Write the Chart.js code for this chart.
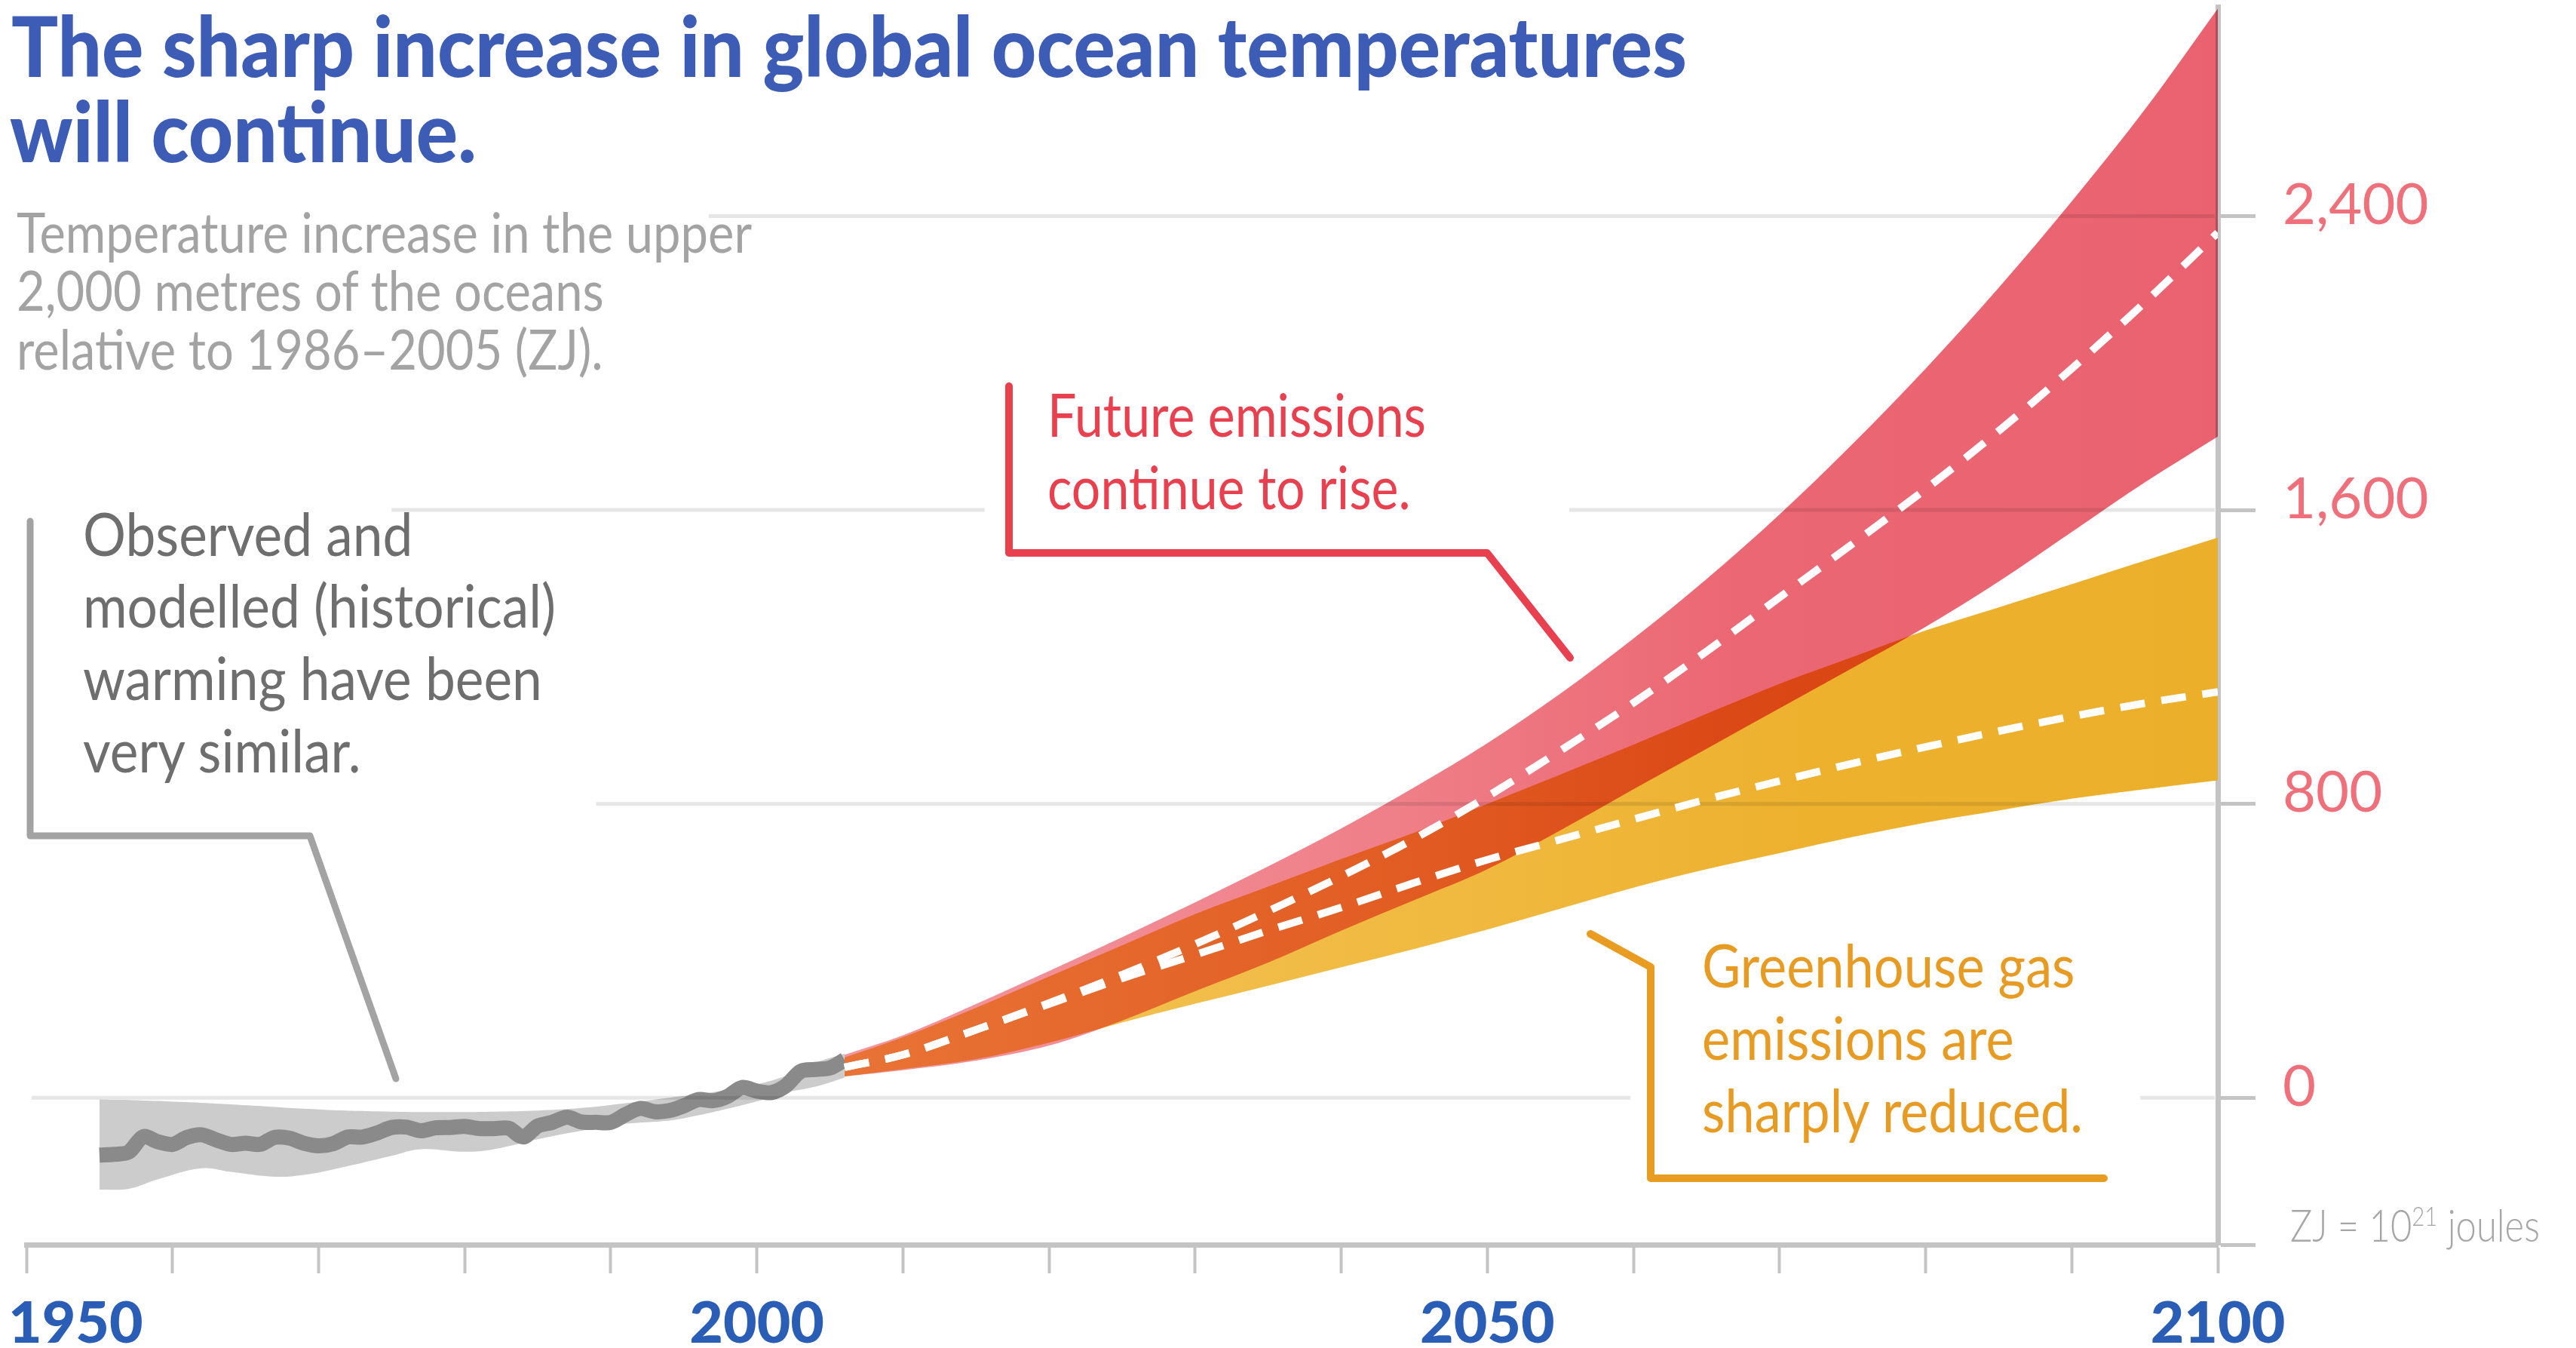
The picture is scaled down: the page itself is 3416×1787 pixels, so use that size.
<!DOCTYPE html>
<html>
<head>
<meta charset="utf-8">
<script src="https://cdn.jsdelivr.net/npm/chart.js@4.4.1/dist/chart.umd.min.js"></script>
<style>
  html, body { margin: 0; padding: 0; background: #ffffff; }
  #wrap { position: relative; width: 3416px; height: 1787px; overflow: hidden; background: #ffffff; }
  #c { position: absolute; left: 0; top: 0; }
  #txt { position: absolute; left: 0; top: 0; pointer-events: none; }
</style>
</head>
<body>
<div id="wrap">
  <canvas id="c" width="3416" height="1787"></canvas>
  <svg id="txt" width="3416" height="1787" xmlns="http://www.w3.org/2000/svg">
    <g class="fit" data-x="15" data-w="2222" fill="#3c5cb6" font-family="Lato, 'Open Sans', sans-serif" font-weight="900" font-size="110">
      <text x="15" y="102" data-ref="1">The sharp increase in global ocean temperatures</text>
      <text x="13" y="215">will continue.</text>
    </g>
    <g class="fit" data-x="22" data-w="975" fill="#a3a3a3" font-family="Lato, 'Open Sans', sans-serif" font-weight="400" font-size="74">
      <text x="22" y="335" data-ref="1">Temperature increase in the upper</text>
      <text x="22" y="412">2,000 metres of the oceans</text>
      <text x="22" y="490">relative to 1986–2005 (ZJ).</text>
    </g>
    <g class="fit" data-x="110" data-w="627" fill="#6e6e6e" font-family="Lato, 'Open Sans', sans-serif" font-weight="400" font-size="79">
      <text x="110" y="737">Observed and</text>
      <text x="110" y="832" data-ref="1">modelled (historical)</text>
      <text x="110" y="928">warming have been</text>
      <text x="110" y="1024">very similar.</text>
    </g>
    <g class="fit" data-x="1389" data-w="502" fill="#e8404f" font-family="Lato, 'Open Sans', sans-serif" font-weight="400" font-size="80">
      <text x="1389" y="579" data-ref="1">Future emissions</text>
      <text x="1389" y="675">continue to rise.</text>
    </g>
    <g class="fit" data-x="2257" data-w="505" fill="#e89b22" font-family="Lato, 'Open Sans', sans-serif" font-weight="400" font-size="80">
      <text x="2257" y="1309">Greenhouse gas</text>
      <text x="2257" y="1405">emissions are</text>
      <text x="2257" y="1501" data-ref="1">sharply reduced.</text>
    </g>
    <g class="fit" data-x="3037" data-w="331" fill="#a6a6a6" font-family="Lato, 'Open Sans', sans-serif" font-weight="300" font-size="60">
      <text x="3037" y="1646" data-ref="1">ZJ = 10<tspan dy="-21" font-size="36">21</tspan><tspan dy="21"> joules</tspan></text>
    </g>
  </svg>
</div>
<script>
// ---------------- DATA ----------------
// Observed ocean heat content (centre of observed band), ZJ
const obsYears = [1955,1956,1957,1958,1959,1960,1961,1962,1963,1964,1965,1966,1967,1968,1969,1970,1971,1972,1973,1974,1975,1976,1977,1978,1979,1980,1981,1982,1983,1984,1985,1986,1987,1988,1989,1990,1991,1992,1993,1994,1995,1996,1997,1998,1999,2000,2001,2002,2003,2004,2005,2006];
const obsValues = [-156,-154,-148,-106,-120,-127,-108,-101,-115,-127,-124,-127,-108,-110,-124,-131,-125,-107,-107,-96,-81,-80,-90,-82,-81,-78,-84,-84,-83,-107,-77,-67,-53,-66,-67,-67,-46,-29,-38,-35,-22,-5,-8,4,28,18,14,33,72,77,81,103];

// Modelled historical range (light grey band), ZJ
const modelYears = [1955,1957,1959,1962,1964,1967,1969,1971,1975,1977,1980,1982,1985,1988,1991,1994,1996,1998,2000,2002,2004,2006];
const modelLower = [-250,-248,-222,-192,-202,-215,-210,-195,-158,-140,-147,-140,-113,-90,-71,-62,-48,-30,-10,14,30,55];
const modelUpper = [-5,-6,-9,-14,-18,-25,-30,-34,-38,-39,-39,-38,-35,-28,-15,0,10,21,36,60,95,120];

// Projections, ZJ
const futureYears = [2006,2010,2015,2020,2025,2030,2035,2040,2045,2050,2055,2060,2065,2070,2075,2080,2085,2090,2095,2100];
const riseUpper   = [117,170,255,345,437,532,630,733,845,965,1100,1250,1412,1588,1780,1985,2205,2440,2690,2965];
const riseMean    = [83,117,185,258,335,418,508,603,705,820,945,1075,1215,1362,1508,1657,1815,1985,2165,2355];
const riseLower   = [58,75,101,142,210,290,368,455,538,622,728,840,950,1060,1170,1282,1405,1540,1675,1800];
const cutUpper    = [110,165,245,330,415,500,575,650,722,800,880,961,1045,1127,1200,1272,1335,1398,1462,1525];
const cutMean     = [83,117,185,255,325,389,455,518,585,648,703,758,812,862,910,955,998,1038,1074,1105];
const cutLower    = [58,78,105,150,205,256,305,355,405,458,515,572,622,666,710,749,782,814,840,864];

// Tick labels
const xTickLabels = [1950, 2000, 2050, 2100];
const yTickValues = [0, 800, 1600, 2400];

// ---------------- HELPERS ----------------
const pts = (xs, ys) => xs.map((x, i) => ({ x: x, y: ys[i] }));

function hGradient(stops) {
  return (context) => {
    const chart = context.chart;
    if (!chart.chartArea) return stops[0][1];
    const xs = chart.scales.x;
    const g = chart.ctx.createLinearGradient(
      xs.getPixelForValue(futureYears[0]), 0,
      xs.getPixelForValue(futureYears[futureYears.length - 1]), 0);
    stops.forEach(([o, c]) => g.addColorStop(o, c));
    return g;
  };
}

const redStops = [[0, '#f3969e'], [0.4, '#ef7f88'], [0.65, '#eb6773'], [1, '#ea6270']];
const orangeStops = [[0, '#f4c457'], [0.45, '#f0b93f'], [0.7, '#edb12e'], [1, '#ecaf2a']];

const NONE = 'rgba(0,0,0,0)';
const base = { pointRadius: 0, pointHoverRadius: 0, borderWidth: 0, borderColor: NONE, fill: false };

const IDX_RISE_LOWER = 5, IDX_RISE_UPPER = 6;

// ---------------- PLUGINS ----------------
const gridSegments = [
  { value: 2400, from: 1996.7, to: 2100 },
  { value: 1600, from: 1975.0, to: 2015.8 },
  { value: 1600, from: 2055.6, to: 2100 },
  { value: 800,  from: 1989.0, to: 2100 },
  { value: 0,    from: 1950.35, to: 2060.0 },
  { value: 0,    from: 2094.7, to: 2100 }
];

function drawGrid(chart) {
  const ctx = chart.ctx, xs = chart.scales.x, ys = chart.scales.y;
  ctx.save();
  ctx.strokeStyle = '#e6e6e6';
  ctx.lineWidth = 5;
  ctx.lineCap = 'butt';
  gridSegments.forEach(s => {
    const y = ys.getPixelForValue(s.value);
    ctx.beginPath();
    ctx.moveTo(xs.getPixelForValue(s.from), y);
    ctx.lineTo(xs.getPixelForValue(s.to) - 4, y);
    ctx.stroke();
  });
  ctx.restore();
}

const blendPlugin = {
  id: 'blend',
  afterDatasetDraw(chart, args) {
    if (args.index === IDX_RISE_LOWER) {
      chart.ctx.globalCompositeOperation = 'multiply';
    } else if (args.index === IDX_RISE_UPPER) {
      drawGrid(chart);
      chart.ctx.globalCompositeOperation = 'source-over';
    }
  }
};

const brackets = [
  { color: '#a3a3a3', width: 9,  pts: [[40, 691], [40, 1108], [411, 1108], [525, 1430]] },
  { color: '#e8404f', width: 10, pts: [[1338, 512], [1338, 733], [1972, 733], [2082, 872]] },
  { color: '#e89c22', width: 10, pts: [[2109, 1238], [2189, 1282], [2189, 1562], [2790, 1562]] }
];

const decorPlugin = {
  id: 'decor',
  afterDraw(chart) {
    const ctx = chart.ctx, xs = chart.scales.x;
    ctx.save();
    ctx.globalCompositeOperation = 'source-over';
    // annotation leader lines
    brackets.forEach(b => {
      ctx.strokeStyle = b.color;
      ctx.lineWidth = b.width;
      ctx.lineCap = 'round';
      ctx.lineJoin = 'round';
      ctx.beginPath();
      b.pts.forEach((p, i) => i ? ctx.lineTo(p[0], p[1]) : ctx.moveTo(p[0], p[1]));
      ctx.stroke();
    });
    // x-axis year labels, positioned by the x scale
    ctx.fillStyle = '#2a5db5';
    ctx.font = '900 77px Lato, "Open Sans", sans-serif';
    ctx.textBaseline = 'alphabetic';
    ctx.textAlign = 'left';
    xTickLabels.forEach(yr => {
      const t = String(yr);
      const w = ctx.measureText(t).width;
      const px = xs.getPixelForValue(yr);
      const left = Math.max(11, px - w / 2);
      ctx.fillText(t, left, 1780);
    });
    ctx.restore();
  }
};

// ---------------- CHART ----------------
const chart = new Chart(document.getElementById('c'), {
  type: 'line',
  data: {
    datasets: [
      { ...base, label: 'Model range lower', data: pts(modelYears, modelLower), order: 10, tension: 0.4 },
      { ...base, label: 'Model range upper', data: pts(modelYears, modelUpper), order: 9, tension: 0.4,
        fill: '-1', backgroundColor: '#cccccc' },
      { ...base, label: 'Observed', data: pts(obsYears, obsValues), order: 8, tension: 0.3,
        borderWidth: 20, borderColor: '#8a8a8a', borderCapStyle: 'butt', borderJoinStyle: 'round' },
      { ...base, label: 'Reduced emissions lower', data: pts(futureYears, cutLower), order: 7, cubicInterpolationMode: 'monotone' },
      { ...base, label: 'Reduced emissions upper', data: pts(futureYears, cutUpper), order: 6, cubicInterpolationMode: 'monotone',
        fill: '-1', backgroundColor: hGradient(orangeStops) },
      { ...base, label: 'Rising emissions lower', data: pts(futureYears, riseLower), order: 5, cubicInterpolationMode: 'monotone' },
      { ...base, label: 'Rising emissions upper', data: pts(futureYears, riseUpper), order: 4, cubicInterpolationMode: 'monotone',
        fill: '-1', backgroundColor: hGradient(redStops) },
      { ...base, label: 'Reduced emissions mean', data: pts(futureYears, cutMean), order: 3, cubicInterpolationMode: 'monotone',
        borderWidth: 10, borderColor: '#ffffff', borderDash: [33, 22], borderCapStyle: 'butt' },
      { ...base, label: 'Rising emissions mean', data: pts(futureYears, riseMean), order: 2, cubicInterpolationMode: 'monotone',
        borderWidth: 10, borderColor: '#ffffff', borderDash: [33, 22], borderCapStyle: 'butt' }
    ]
  },
  options: {
    responsive: false,
    devicePixelRatio: 1,
    animation: false,
    events: [],
    layout: { autoPadding: false, padding: { left: 35, top: 9, right: 0, bottom: 0 } },
    plugins: { legend: { display: false }, tooltip: { enabled: false }, title: { display: false } },
    scales: {
      x: {
        type: 'linear', min: 1950, max: 2100,
        afterFit: s => { s.height = 137; s.paddingLeft = 0; s.paddingRight = 0; s.paddingTop = 0; s.paddingBottom = 0; },
        ticks: { display: false, stepSize: 10 },
        grid: { display: true, drawOnChartArea: false, drawTicks: true, tickLength: 38, tickWidth: 4, tickColor: '#c4c4c4' },
        border: { display: true, color: '#c4c4c4', width: 7 }
      },
      y: {
        type: 'linear', position: 'right', min: -400, max: 2970,
        afterFit: s => { s.width = 475; s.paddingTop = 0; s.paddingBottom = 0; s.paddingLeft = 0; s.paddingRight = 0; },
        afterBuildTicks: s => { s.ticks = [-400].concat(yTickValues).map(v => ({ value: v })); },
        ticks: {
          color: '#ef6f7b', font: { family: 'Lato, "Open Sans", sans-serif', size: 76, weight: '400' },
          padding: 36, labelOffset: -14, autoSkip: false,
          callback: v => (v < 0 ? '' : Number(v).toLocaleString('en-US'))
        },
        grid: { display: true, drawOnChartArea: false, drawTicks: true, tickLength: 50, tickWidth: 5, tickColor: '#c4c4c4' },
        border: { display: true, color: '#c4c4c4', width: 7 }
      }
    }
  },
  plugins: [blendPlugin, decorPlugin]
});

// ---------------- TEXT FITTING ----------------
function fitText() {
  document.querySelectorAll('#txt g.fit').forEach(g => {
    const ref = g.querySelector('[data-ref]') || g.querySelector('text');
    const w = ref.getComputedTextLength();
    const target = parseFloat(g.dataset.w);
    const x0 = parseFloat(g.dataset.x);
    if (w > 0) {
      const s = target / w;
      g.setAttribute('transform', 'translate(' + x0 + ' 0) scale(' + s + ' 1) translate(' + (-x0) + ' 0)');
    }
  });
}
fitText();
if (document.fonts && document.fonts.ready) document.fonts.ready.then(fitText);
</script>
</body>
</html>
